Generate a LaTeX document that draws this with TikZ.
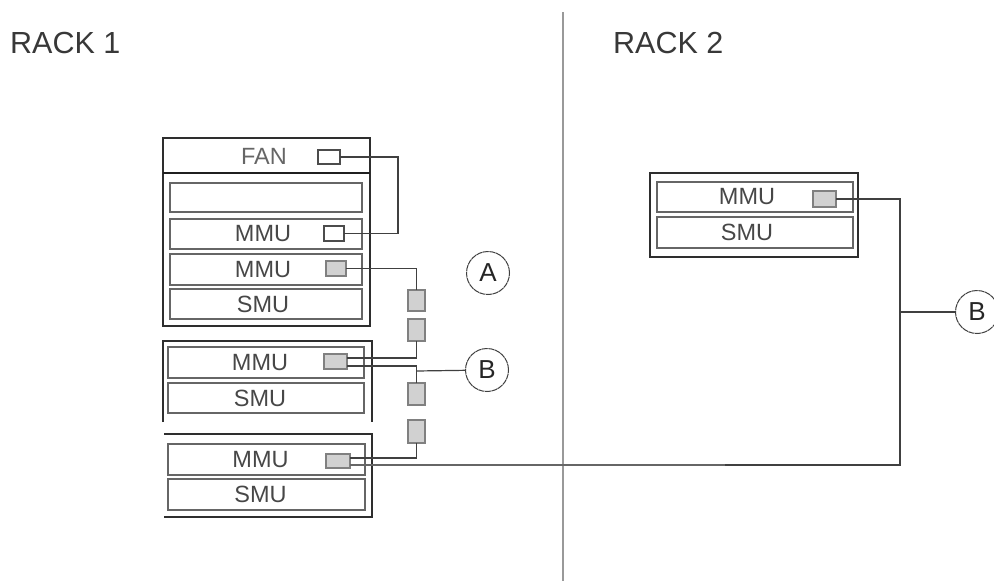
\documentclass[tikz,border=0pt]{standalone}
\usepackage{fontspec}
\setmainfont{Liberation Sans}
\newcommand{\bx}[7][]{%
  \pgfmathsetmacro{\cxx}{(#3+#5)/2}%
  \pgfmathsetmacro{\cyy}{(#4+#6)/2}%
  \pgfmathsetmacro{\wdd}{#5-#3}%
  \pgfmathsetmacro{\htt}{#6-#4}%
  \node[#1,minimum width=\wdd pt,minimum height=\htt pt] (#2) at (\cxx,\cyy) {#7};}
\tikzset{
  x=1pt,y=-1pt,
  frame/.style={draw=black!82,line width=1.5pt,inner sep=0pt,outer sep=0pt},
  rowbox/.style={draw=black!60,line width=1.2pt,inner sep=0pt,outer sep=0pt,text=black!72,font=\fontsize{23.5}{23.5}\selectfont},
  whiteport/.style={draw=black!70,line width=1.2pt,fill=white,inner sep=0pt,outer sep=0pt},
  grayport/.style={draw=black!50,line width=1.2pt,fill=black!18,inner sep=0pt,outer sep=0pt},
  wire/.style={draw=black!75,line width=1.2pt},
  callout/.style={circle,draw=black!75,line width=1pt,dash pattern=on 6pt off 0.6pt,fill=white,minimum size=43pt,inner sep=0pt,outer sep=0pt,font=\fontsize{26}{26}\selectfont,text=black!85},
  title/.style={inner sep=0pt,anchor=west,font=\fontsize{30.5}{30.5}\selectfont,text=black!78}
}
\begin{document}
\begin{tikzpicture}
\useasboundingbox (0,0) rectangle (994,581);
\node[title] (r1) at (10,43) {RACK 1};
\node[title] (r2) at (613,43) {RACK 2};
\coordinate (dtop) at (563,12);
\coordinate (dbot) at (563,581);
\draw[draw=black!40,line width=2.8pt] (dtop) -- (dbot);

% rack 1, top chassis
\bx[frame]{chassisA}{163}{138}{370}{326}{}
\coordinate (divL) at (163,173);
\coordinate (divR) at (370,173);
\draw[draw=black!88,line width=2.6pt] (divL) -- (divR);
\node[inner sep=0pt,text=black!60,font=\fontsize{23.5}{23.5}\selectfont] (fan) at (264,156) {FAN};
\bx[rowbox]{blank}{170}{183}{362}{212}{}
\bx[rowbox]{mmuA}{170}{219}{362}{249}{\hspace*{-6pt}MMU}
\bx[rowbox]{mmuB}{170}{254}{362}{285}{\hspace*{-6pt}MMU}
\bx[rowbox]{smuA}{170}{289}{362}{319}{\hspace*{-6pt}SMU}
\bx[whiteport]{pFan}{318}{150}{340}{164}{}
\bx[whiteport]{pA}{324}{226}{344}{241}{}
\bx[grayport]{pB}{326}{261}{346}{276}{}

% rack 1, middle chassis (open bottom)
\coordinate (c2a) at (163,422);
\coordinate (c2b) at (163,341);
\coordinate (c2c) at (372,341);
\coordinate (c2d) at (372,422);
\draw[draw=black!82,line width=1.5pt] (c2a) -- (c2b) -- (c2c) -- (c2d);
\bx[rowbox]{mmuC}{168}{347}{364}{378}{\hspace*{-12pt}MMU}
\bx[rowbox]{smuB}{168}{383}{364}{413}{\hspace*{-12pt}SMU}
\bx[grayport]{pC}{324}{354}{347}{369}{}

% rack 1, lower chassis (open left)
\coordinate (c3a) at (164,434);
\coordinate (c3b) at (372,434);
\coordinate (c3c) at (372,517);
\coordinate (c3d) at (164,517);
\draw[draw=black!82,line width=1.5pt] (c3a) -- (c3b) -- (c3c) -- (c3d);
\bx[rowbox]{mmuD}{168}{444}{365}{475}{\hspace*{-12pt}MMU}
\bx[rowbox]{smuC}{168}{479}{365}{510}{\hspace*{-12pt}SMU}
\bx[grayport]{pD}{326}{454}{350}{468}{}

% couplers
\bx[grayport]{k1}{408}{290}{425}{311}{}
\bx[grayport]{k2}{408}{319}{425}{341}{}
\bx[grayport]{k3}{408}{383}{425}{405}{}
\bx[grayport]{k4}{408}{420}{425}{443}{}

% rack 2
\bx[frame]{chassisR}{650}{173}{858}{257}{}
\bx[rowbox]{mmuR}{657}{182}{853}{212}{\hspace*{-16pt}MMU}
\bx[rowbox]{smuR}{657}{217}{853}{248}{\hspace*{-16pt}SMU}
\bx[grayport]{pR}{813}{191}{836}{207}{}

% callouts
\node[callout] (A) at (488,273) {A};
\node[callout] (B1) at (487,370) {B};
\node[callout] (B2) at (977,312) {B};

% wiring
\coordinate (t1) at (398,190);
\draw[wire] (pFan.east) -| (t1) |- (pA.east);
\draw[wire] (pB.east) -| (k1.north);
\coordinate (pCupE) at (347,358);
\draw[wire] (pCupE) -| (k2.south);
\coordinate (pClo) at (347,366);
\coordinate (j1) at (416.5,366);
\draw[wire] (pClo) -- (j1) -- (k3.north);
\coordinate (j1b) at (416.5,371);
\draw[wire] (j1b) -- (B1);
\coordinate (pDup) at (350,458);
\draw[wire] (pDup) -| (k4.south);
\coordinate (pDlo) at (350,465);
\coordinate (tm) at (725,465);
\coordinate (tr) at (900,465);
\draw[draw=black!60,line width=1.2pt] (pDlo) -- (tm);
\draw[wire] (tm) -- (tr) |- (pR.east);
\coordinate (j2) at (900,312);
\draw[wire] (j2) -- (B2);
\end{tikzpicture}
\end{document}
